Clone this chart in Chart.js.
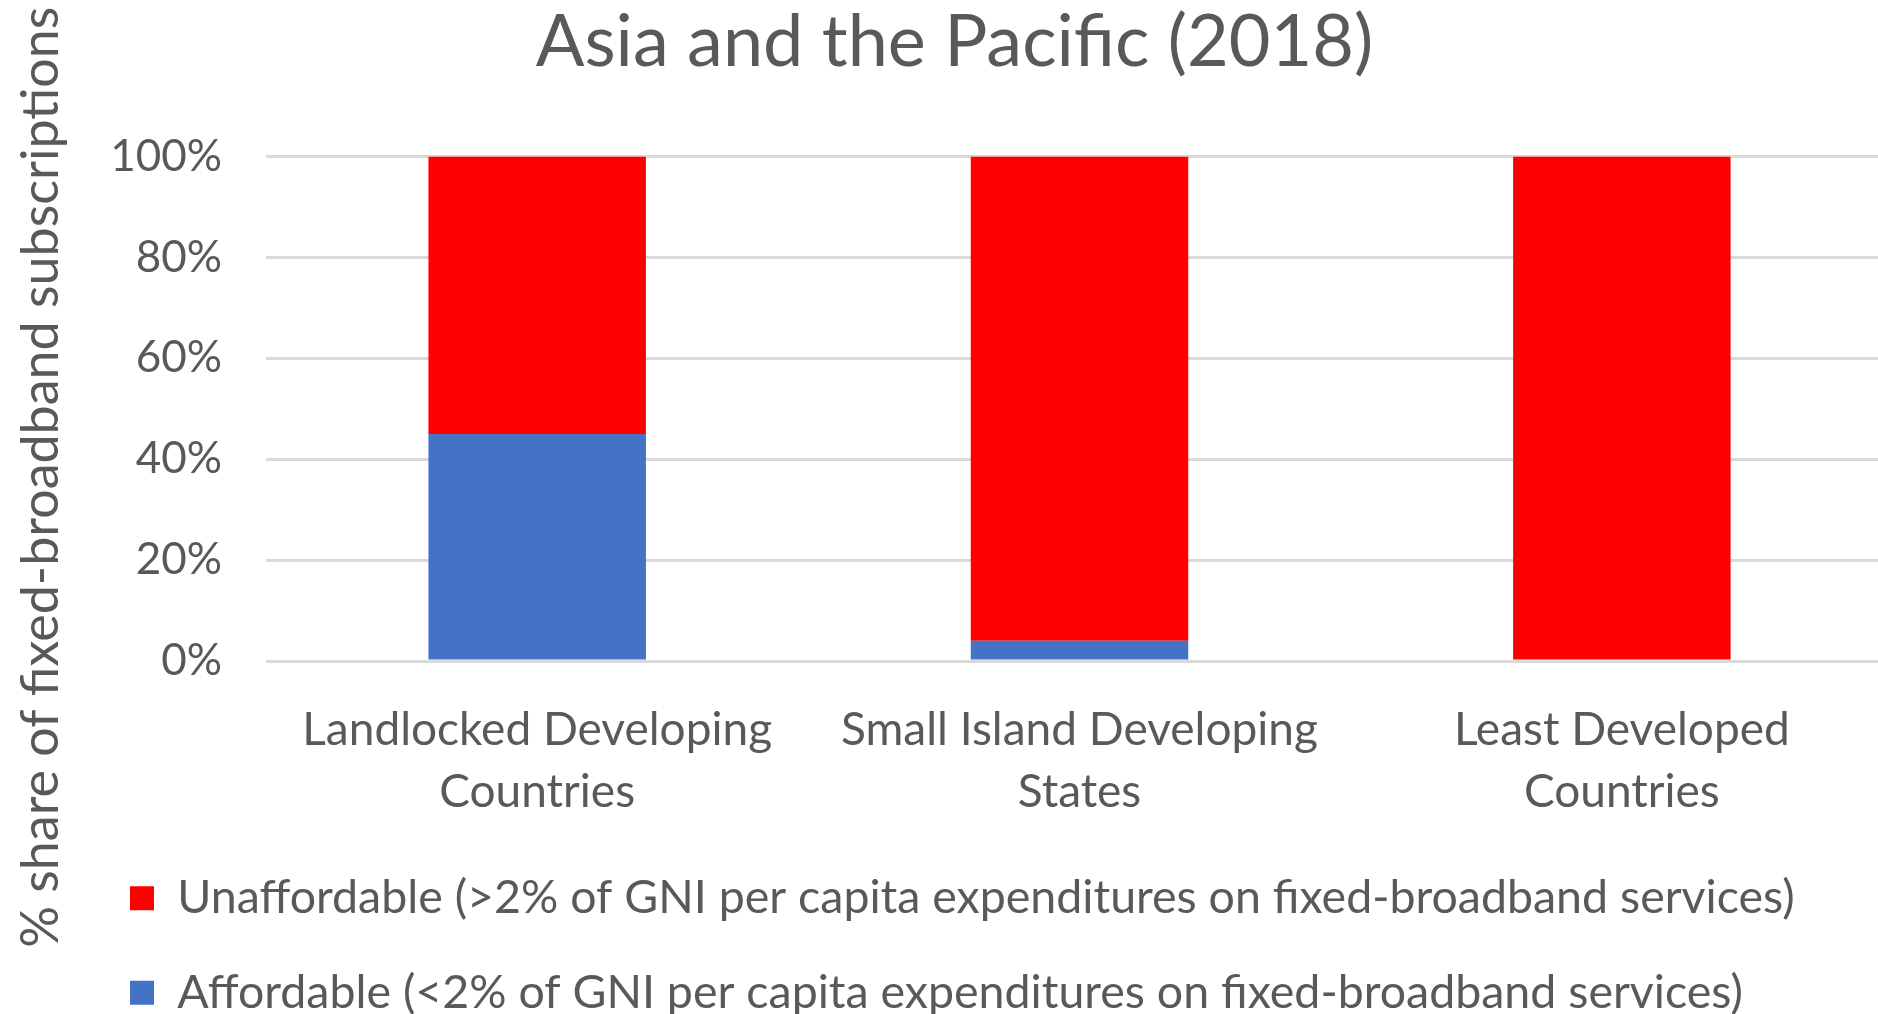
<!DOCTYPE html>
<html>
<head>
<meta charset="utf-8">
<title>Asia and the Pacific (2018)</title>
<script src="https://cdn.jsdelivr.net/npm/chart.js@4/dist/chart.umd.min.js"></script>
<style>
    html, body { margin: 0; padding: 0; background: #ffffff; overflow: hidden; }
    #barChart { display: block; }
</style>
</head>
<body>
<!-- plot runs slightly past the right edge of the window, as in the original -->
<canvas id="barChart" width="1893" height="1014"></canvas>
<script>
var categories = [
    ['Landlocked Developing', 'Countries'],
    ['Small Island Developing', 'States'],
    ['Least Developed', 'Countries']
];
var affordable = [45, 4, 0];
var unaffordable = [55, 96, 100];
var seriesNames = [
    'Affordable (<2% of GNI per capita expenditures on fixed-broadband services)',
    'Unaffordable (>2% of GNI per capita expenditures on fixed-broadband services)'
];
var yTicks = [0, 20, 40, 60, 80, 100];

var textColor = '#595959';
var fontFamily = 'Lato, "Open Sans", sans-serif';

// small layout nudges the options can't express (legend indent, title / y title centre)
var layoutTweaks = {
    id: 'layoutTweaks',
    afterLayout: function (chart) {
        chart.legend.left += 82;
        chart.titleBlock.left += 8;
        chart.titleBlock.right += 8;
        chart.scales.y.bottom = 798;
    }
};

document.addEventListener("DOMContentLoaded", function () {
    var ctx = document.getElementById('barChart').getContext('2d');
    var data = {
        labels: categories,
        datasets: [{
            label: seriesNames[0],
            data: affordable,
            backgroundColor: '#4472C4',
            borderWidth: 0
        }, {
            label: seriesNames[1],
            data: unaffordable,
            backgroundColor: '#FF0000',
            borderWidth: 0
        }]
    };
    var options = {
        responsive: false,
        animation: false,
        layout: { padding: 0 },
        datasets: {
            bar: { categoryPercentage: 1, barPercentage: 0.401 }
        },
        scales: {
            x: {
                stacked: true,
                grid: { display: false },
                border: { display: false },
                ticks: {
                    color: textColor,
                    font: { family: fontFamily, size: 46, lineHeight: 1.35 },
                    maxRotation: 0,
                    autoSkip: false,
                    padding: 30
                },
                afterFit: function (axis) { axis.height = 166; }
            },
            y: {
                stacked: true,
                min: 0,
                max: 100,
                afterBuildTicks: function (axis) {
                    axis.ticks = yTicks.map(function (v) { return { value: v }; });
                },
                grid: { color: '#d9d9d9', lineWidth: 3, drawTicks: false },
                border: { display: false },
                ticks: {
                    color: textColor,
                    font: { family: fontFamily, size: 44 },
                    padding: 44,
                    callback: function (v) { return v + '%'; }
                },
                title: {
                    display: true,
                    text: '% share of fixed-broadband subscriptions',
                    color: textColor,
                    font: { family: fontFamily, size: 52 },
                    padding: { top: 10, bottom: 0 }
                },
                afterFit: function (axis) { axis.width = 266; }
            }
        },
        plugins: {
            title: {
                display: true,
                text: 'Asia and the Pacific (2018)',
                color: textColor,
                font: { family: fontFamily, size: 72, weight: 'normal' },
                padding: { top: 0, bottom: 70 }
            },
            legend: {
                position: 'bottom',
                align: 'start',
                reverse: true,
                maxHeight: 187,
                labels: {
                    color: textColor,
                    font: { family: fontFamily, size: 46.5 },
                    boxWidth: 24,
                    boxHeight: 24,
                    padding: 48
                }
            },
            tooltip: { enabled: false }
        }
    };
    new Chart(ctx, {
        type: 'bar',
        data: data,
        options: options,
        plugins: [layoutTweaks]
    });
});
</script>
</body>
</html>
